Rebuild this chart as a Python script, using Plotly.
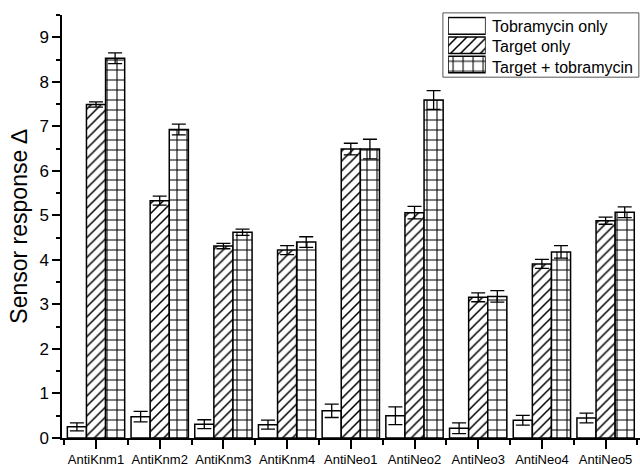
import plotly.graph_objects as go

categories = ["AntiKnm1", "AntiKnm2", "AntiKnm3", "AntiKnm4", "AntiNeo1",
              "AntiNeo2", "AntiNeo3", "AntiNeo4", "AntiNeo5"]

tobra_only = [0.25, 0.48, 0.31, 0.30, 0.61, 0.50, 0.22, 0.40, 0.45]
tobra_err = [0.09, 0.12, 0.10, 0.10, 0.15, 0.20, 0.12, 0.11, 0.11]

target_only = [7.49, 5.33, 4.31, 4.22, 6.49, 5.06, 3.16, 3.91, 4.88]
target_err = [0.06, 0.10, 0.06, 0.10, 0.13, 0.14, 0.10, 0.10, 0.08]

target_tobra = [8.53, 6.93, 4.62, 4.40, 6.49, 7.59, 3.18, 4.18, 5.07]
target_tobra_err = [0.12, 0.12, 0.07, 0.12, 0.22, 0.21, 0.13, 0.14, 0.12]

series_names = ["Tobramycin only", "Target only", "Target + tobramycin"]
series_values = [tobra_only, target_only, target_tobra]
series_errors = [tobra_err, target_err, target_tobra_err]

# fill patterns for each series: plain, diagonal hatch, square grid
pattern_shapes = ["", "/", "+"]
pattern_sizes = [8, 7, 10]
pattern_solidity = [0.1, 0.22, 0.2]

xpos = list(range(len(categories)))
font_family = "Liberation Sans, Arial, sans-serif"

fig = go.Figure()
for name, vals, errs, shp, sz, sol in zip(series_names, series_values,
                                          series_errors, pattern_shapes,
                                          pattern_sizes, pattern_solidity):
    fig.add_trace(go.Bar(
        x=xpos, y=vals, name=name, showlegend=False,
        marker=dict(
            color="white",
            line=dict(color="black", width=1.5),
            pattern=dict(shape=shp, fgcolor="black", bgcolor="white",
                         fgopacity=1, size=sz, solidity=sol),
        ),
        error_y=dict(type="data", array=errs, visible=True,
                     color="black", thickness=1.3, width=7),
    ))

# key: large patterned swatches drawn on a small inset axis
legend_rows = list(range(len(series_names)))[::-1]
fig.add_trace(go.Bar(
    x=[1] * len(series_names), y=legend_rows, orientation="h",
    xaxis="x2", yaxis="y2", width=0.86, showlegend=False, hoverinfo="skip",
    marker=dict(
        color="white",
        line=dict(color="black", width=1.5),
        pattern=dict(shape=pattern_shapes, fgcolor="black", bgcolor="white",
                     fgopacity=1, size=pattern_sizes,
                     solidity=pattern_solidity),
    ),
))

fig.update_layout(
    width=640, height=467,
    margin=dict(l=62, r=0, t=15, b=27),
    plot_bgcolor="white", paper_bgcolor="white",
    barmode="group", bargap=0.1, bargroupgap=0,
    font=dict(family=font_family, color="black"),
    xaxis=dict(
        range=[-0.534, 8.54],
        tickmode="array", tickvals=xpos, ticktext=categories,
        tickfont=dict(size=13, family=font_family, color="black"),
        ticks="outside", ticklen=9, tickwidth=1.5, tickcolor="black",
        minor=dict(tickvals=[i + 0.5 for i in range(-1, len(categories))],
                   ticks="outside", ticklen=5, tickwidth=1.5, tickcolor="black"),
        showline=True, linecolor="black", linewidth=1.5,
        showgrid=False, zeroline=False,
    ),
    yaxis=dict(
        range=[0, 9.5],
        tickmode="linear", tick0=0, dtick=1,
        tickfont=dict(size=17, family=font_family, color="black"),
        ticks="outside", ticklen=8, tickwidth=1.5, tickcolor="black",
        minor=dict(dtick=0.5, ticks="outside", ticklen=4, tickwidth=1.5,
                   tickcolor="black"),
        showline=True, linecolor="black", linewidth=1.5,
        showgrid=False, zeroline=False,
        title=dict(text="Sensor response \u2206", standoff=5,
                   font=dict(size=23, family=font_family, color="black")),
    ),
    xaxis2=dict(domain=[0.668, 0.733], range=[0, 1], anchor="y2",
                visible=False, fixedrange=True),
    yaxis2=dict(domain=[0.86, 0.997], range=[-0.5, 2.5], anchor="x2",
                visible=False, fixedrange=True),
    shapes=[dict(type="rect", xref="paper", yref="paper",
                 x0=0.659, x1=0.998, y0=0.853, y1=1.005,
                 line=dict(color="#555555", width=1), layer="above")],
)

row_y = [0.973, 0.925, 0.877]
for name, yy in zip(series_names, row_y):
    fig.add_annotation(
        text=name, xref="paper", yref="paper", x=0.740, y=yy,
        xanchor="left", yanchor="middle", showarrow=False,
        font=dict(size=16, family=font_family, color="black"),
    )

fig.write_html("out.html")
